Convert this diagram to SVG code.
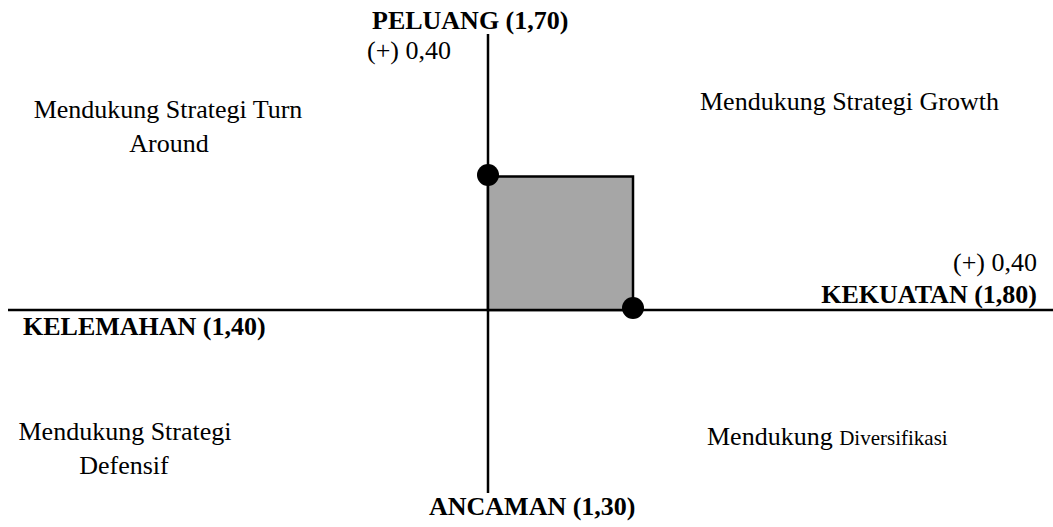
<svg xmlns="http://www.w3.org/2000/svg" width="1053" height="527" viewBox="0 0 1053 527">
<style>
.t{font-family:"Liberation Serif","Times New Roman",serif;font-size:26px;fill:#000}
.b{font-weight:bold}
.ax{stroke:#000;stroke-width:2.5;fill:none}
</style>
<rect width="1053" height="527" fill="#fff"/>
<g id="connectors">
<line class="ax" x1="488" y1="34" x2="488" y2="493"/>
<line class="ax" x1="8" y1="310" x2="1053" y2="310"/>
</g>
<g id="area">
<rect x="488" y="176.5" width="145" height="133.5" fill="#a6a6a6" stroke="#000" stroke-width="2.5"/>
</g>
<g id="dot-peluang"><circle cx="488" cy="175" r="11" fill="#000"/></g>
<g id="dot-kekuatan"><circle cx="633" cy="308" r="11" fill="#000"/></g>
<g id="label-peluang">
<text class="t b" x="372" y="29">PELUANG (1,70)</text>
<text class="t" x="367" y="59">(+) 0,40</text>
</g>
<g id="label-kekuatan">
<text class="t" x="1037" y="271" text-anchor="end">(+) 0,40</text>
<text class="t b" x="1037" y="303" text-anchor="end">KEKUATAN (1,80)</text>
</g>
<g id="label-kelemahan"><text class="t b" x="23" y="335">KELEMAHAN (1,40)</text></g>
<g id="label-ancaman"><text class="t b" x="429" y="515">ANCAMAN (1,30)</text></g>
<g id="q-turnaround">
<text class="t" x="168" y="118" text-anchor="middle">Mendukung Strategi Turn</text>
<text class="t" x="169" y="152" text-anchor="middle">Around</text>
</g>
<g id="q-growth"><text class="t" x="700" y="110">Mendukung Strategi Growth</text></g>
<g id="q-defensif">
<text class="t" x="125" y="440" text-anchor="middle">Mendukung Strategi</text>
<text class="t" x="124" y="474" text-anchor="middle">Defensif</text>
</g>
<g id="q-diversifikasi"><text class="t" x="707" y="445">Mendukung <tspan font-size="21">Diversifikasi</tspan></text></g>
</svg>
